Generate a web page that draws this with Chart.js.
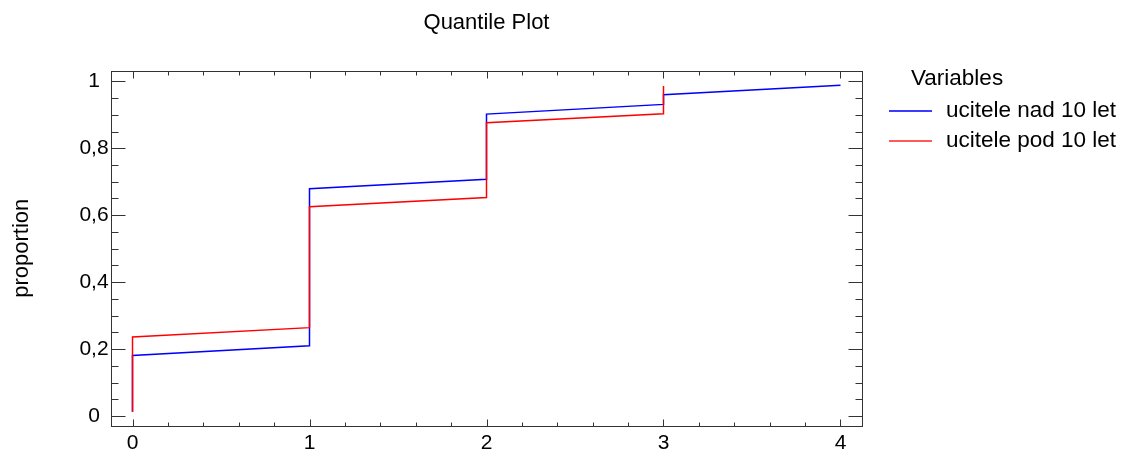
<!DOCTYPE html>
<html>
<head>
<meta charset="utf-8">
<title>Quantile Plot</title>
<script src="https://cdn.jsdelivr.net/npm/chart.js@4.4.0/dist/chart.umd.js"></script>
<style>
  html, body { margin: 0; padding: 0; background: #fff; }
  #wrap { position: relative; width: 1121px; height: 455px; }
</style>
</head>
<body>
<div id="wrap"><canvas id="quantile" width="1121" height="455"></canvas></div>
<script>
// Valeurs
const seriesNames = ['ucitele nad 10 let', 'ucitele pod 10 let']
const nadX = [0, 0, 1, 1, 2, 2, 3, 3, 4]
const nadY = [0.013, 0.181, 0.21, 0.679, 0.707, 0.902, 0.931, 0.96, 0.988]
const podX = [0, 0, 1, 1, 2, 2, 3, 3]
const podY = [0.013, 0.236, 0.264, 0.625, 0.653, 0.876, 0.903, 0.986]

const xTickValues = [0, 1, 2, 3, 4]
const xTickLabels = ['0', '1', '2', '3', '4']
const yTickValues = [0, 0.2, 0.4, 0.6, 0.8, 1]
const yTickLabels = ['0', '0,2', '0,4', '0,6', '0,8', '1']

const FONT = '"Liberation Sans", Arial, sans-serif'
const BLUE = '#0000ff'
const RED = '#ff0000'

const toPoints = (xs, ys) => xs.map((x, i) => ({ x: x, y: ys[i] }))

/**
 * Cadre, graduations, textes et légende (style Statgraphics)
 */
const decorPlugin = {
  id: 'decor',
  afterDraw(chart) {
    const ctx = chart.ctx
    const { left, right, top, bottom } = chart.chartArea
    const xs = chart.scales.x
    const ys = chart.scales.y
    const L = Math.round(left) + 0.5
    const R = Math.round(right) + 0.5
    const T = Math.round(top) + 0.5
    const B = Math.round(bottom) + 0.5

    ctx.save()
    ctx.strokeStyle = '#333'
    ctx.lineWidth = 1
    ctx.strokeRect(L, T, R - L, B - T)

    // graduations X (mineures tous les 0,2)
    ctx.beginPath()
    for (let i = 0; i <= 20; i++) {
      const px = Math.round(xs.getPixelForValue(i / 5)) + 0.5
      const len = i % 5 === 0 ? 7 : 4
      ctx.moveTo(px, B); ctx.lineTo(px, B - len)
      ctx.moveTo(px, T); ctx.lineTo(px, T + len)
    }
    // graduations Y (mineures tous les 0,05)
    for (let i = 0; i <= 20; i++) {
      const py = Math.round(ys.getPixelForValue(i / 20)) + 0.5
      const len = i % 4 === 0 ? 14 : 7
      ctx.moveTo(L, py); ctx.lineTo(L + len, py)
      ctx.moveTo(R, py); ctx.lineTo(R - len, py)
    }
    ctx.stroke()

    // libellés
    ctx.fillStyle = '#000'
    ctx.font = '21px ' + FONT
    ctx.textAlign = 'center'
    ctx.textBaseline = 'middle'
    xTickValues.forEach((v, i) => {
      ctx.fillText(xTickLabels[i], xs.getPixelForValue(v), bottom + 18)
    })
    yTickValues.forEach((v, i) => {
      ctx.fillText(yTickLabels[i], 94, ys.getPixelForValue(v))
    })

    // titre
    ctx.font = '22px ' + FONT
    ctx.fillText('Quantile Plot', (left + right) / 2, 23)

    // titre axe Y
    ctx.save()
    ctx.translate(22, (top + bottom) / 2)
    ctx.rotate(-Math.PI / 2)
    ctx.fillText('proportion', 0, 0)
    ctx.restore()

    // légende
    ctx.textAlign = 'left'
    ctx.font = '22.5px ' + FONT
    ctx.fillText('Variables', 911, 79)
    const colors = ['#3c3cff', '#ff5a5a']
    seriesNames.forEach((name, i) => {
      const y = 111 + i * 30
      ctx.strokeStyle = colors[i]
      ctx.lineWidth = 2
      ctx.beginPath()
      ctx.moveTo(889, y); ctx.lineTo(932, y)
      ctx.stroke()
      ctx.fillText(name, 946, y)
    })
    ctx.restore()
  }
}

const chart = new Chart(document.getElementById('quantile'), {
  type: 'scatter',
  data: {
    datasets: [
      {
        label: seriesNames[0],
        data: toPoints(nadX, nadY),
        showLine: true,
        borderColor: BLUE,
        backgroundColor: BLUE,
        borderWidth: 1.5,
        pointRadius: 0,
        order: 1
      },
      {
        label: seriesNames[1],
        data: toPoints(podX, podY),
        showLine: true,
        borderColor: RED,
        backgroundColor: RED,
        borderWidth: 1.5,
        pointRadius: 0,
        order: 0
      }
    ]
  },
  options: {
    responsive: false,
    animation: false,
    layout: { padding: { left: 111, right: 259, top: 71, bottom: 29.5 } },
    scales: {
      x: { type: 'linear', min: -0.1215, max: 4.1215, display: false },
      y: { type: 'linear', min: -0.0284, max: 1.0308, display: false }
    },
    plugins: {
      legend: { display: false },
      tooltip: { enabled: false },
      title: { display: false }
    }
  },
  plugins: [decorPlugin]
})
</script>
</body>
</html>
